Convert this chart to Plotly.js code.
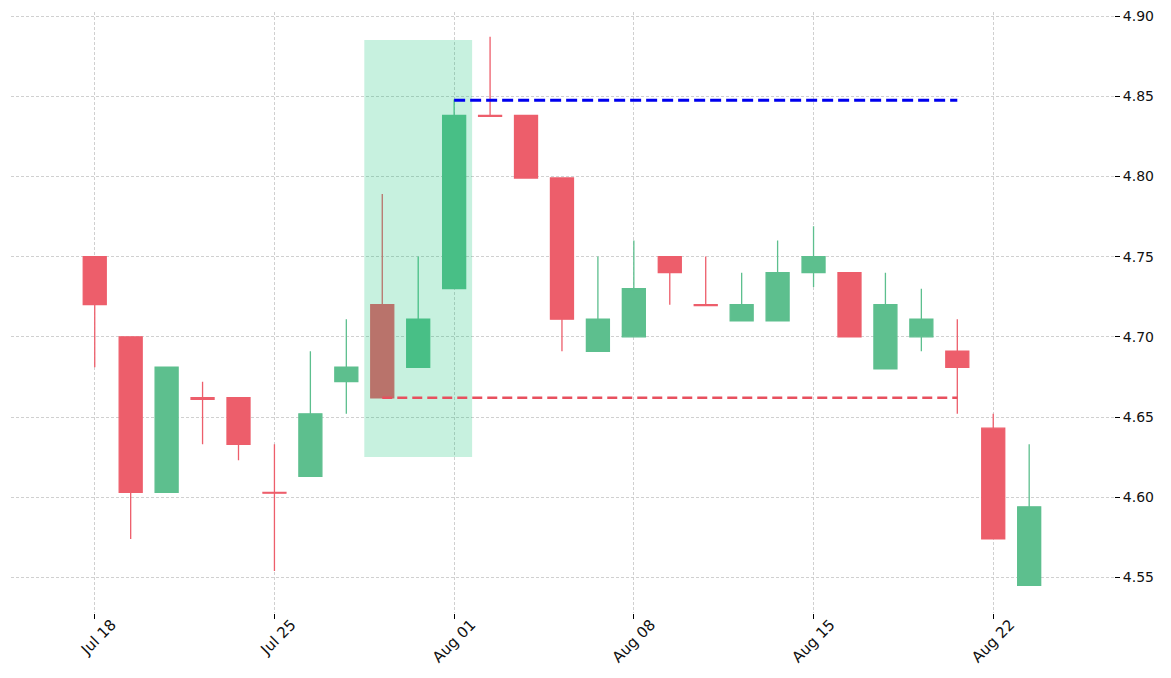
<!DOCTYPE html>
<html>
<head>
<meta charset="utf-8">
<script src="https://cdn.plot.ly/plotly-3.0.1.min.js"></script>
<style>
  html, body { margin: 0; padding: 0; background: #fff; }
  #chart { width: 1171px; height: 678px; }
</style>
</head>
<body>
<div id="chart"></div>
<script>
// daily candles, weekends skipped
var dates = ['2022-07-18','2022-07-19','2022-07-20','2022-07-21','2022-07-22',
             '2022-07-25','2022-07-26','2022-07-27','2022-07-28','2022-07-29',
             '2022-08-01','2022-08-02','2022-08-03','2022-08-04','2022-08-05',
             '2022-08-08','2022-08-09','2022-08-10','2022-08-11','2022-08-12',
             '2022-08-15','2022-08-16','2022-08-17','2022-08-18','2022-08-19',
             '2022-08-22','2022-08-23'];
var open_p  = [4.75, 4.70, 4.603, 4.662, 4.662, 4.603, 4.613, 4.672, 4.72, 4.681,
               4.73, 4.838, 4.838, 4.799, 4.691, 4.70, 4.75, 4.72, 4.71, 4.71,
               4.74, 4.74, 4.68, 4.70, 4.691, 4.643, 4.545];
var high_p  = [4.75, 4.70, 4.681, 4.672, 4.662, 4.633, 4.691, 4.711, 4.789, 4.75,
               4.848, 4.887, 4.838, 4.799, 4.75, 4.76, 4.75, 4.75, 4.74, 4.76,
               4.769, 4.74, 4.74, 4.73, 4.711, 4.652, 4.633];
var low_p   = [4.681, 4.574, 4.603, 4.633, 4.623, 4.554, 4.613, 4.652, 4.662, 4.681,
               4.73, 4.838, 4.799, 4.691, 4.691, 4.70, 4.72, 4.72, 4.71, 4.71,
               4.731, 4.70, 4.68, 4.691, 4.652, 4.574, 4.545];
var close_p = [4.72, 4.603, 4.681, 4.661, 4.633, 4.6025, 4.652, 4.681, 4.662, 4.711,
               4.838, 4.8375, 4.799, 4.711, 4.711, 4.73, 4.74, 4.7195, 4.72, 4.74,
               4.75, 4.70, 4.72, 4.711, 4.681, 4.574, 4.594];

var tick_vals = ['2022-07-18','2022-07-25','2022-08-01','2022-08-08','2022-08-15','2022-08-22'];
var tick_text = ['Jul 18','Jul 25','Aug 01','Aug 08','Aug 15','Aug 22'];

// pattern markers: highlighted zone and the two levels
var zone_from = '2022-07-27', zone_to = '2022-08-01';
var zone_low = 4.625, zone_high = 4.885;
var resist_start = '2022-08-01', support_start = '2022-07-28', level_end = '2022-08-19';
var resist_level = 4.8475, support_level = 4.662;

var green = '#5dbf8e';
var red = '#ed5e6b';

var candles = {
  x: dates, open: open_p, high: high_p, low: low_p, close: close_p,
  type: 'candlestick',
  increasing: { line: { color: green, width: 1.3 }, fillcolor: green },
  decreasing: { line: { color: red, width: 1.3 }, fillcolor: red },
  hoverinfo: 'skip',
  showlegend: false
};

function idx(d) { return dates.indexOf(d); }

var layout = {
  width: 1171, height: 678,
  margin: { l: 11, r: 57, t: 12, b: 65 },
  paper_bgcolor: '#ffffff',
  plot_bgcolor: '#ffffff',
  font: { family: 'DejaVu Sans', size: 14, color: '#111' },
  showlegend: false,
  boxgap: 0.36,
  boxgroupgap: 0,
  xaxis: {
    type: 'category',
    range: [-2.33, dates.length - 1 + 2.36],
    rangeslider: { visible: false },
    tickmode: 'array', tickvals: tick_vals, ticktext: tick_text,
    tickfont: { family: 'DejaVu Sans', size: 15, color: '#111' },
    tickangle: -45, ticklabelshift: 17, ticklabelstandoff: -9,
    ticks: 'outside', ticklen: 5, tickcolor: '#000', tickwidth: 1,
    showgrid: true, gridcolor: '#c4c4c4', gridwidth: 0.8, griddash: '3px,2px',
    showline: false, zeroline: false
  },
  yaxis: {
    side: 'right',
    range: [4.5278, 4.9025],
    tickmode: 'array',
    tickvals: [4.55, 4.60, 4.65, 4.70, 4.75, 4.80, 4.85, 4.90],
    ticktext: ['4.55','4.60','4.65','4.70','4.75','4.80','4.85','4.90'],
    tickfont: { family: 'DejaVu Sans', size: 14, color: '#111' },
    ticks: 'outside', ticklen: 5, tickcolor: '#000', tickwidth: 1,
    showgrid: true, gridcolor: '#c4c4c4', gridwidth: 0.8, griddash: '3px,2px',
    showline: false, zeroline: false
  },
  shapes: [
    { type: 'rect', xref: 'x', yref: 'y', layer: 'above',
      x0: idx(zone_from) + 0.5, x1: idx(zone_to) + 0.5, y0: zone_low, y1: zone_high,
      fillcolor: 'rgba(0,190,110,0.22)', line: { width: 0 } },
    { type: 'line', xref: 'x', yref: 'y', layer: 'above',
      x0: idx(resist_start), x1: idx(level_end), y0: resist_level, y1: resist_level,
      line: { color: '#0000ee', width: 3, dash: '11px,5px' } },
    { type: 'line', xref: 'x', yref: 'y', layer: 'above',
      x0: idx(support_start), x1: idx(level_end), y0: support_level, y1: support_level,
      line: { color: '#e8505e', width: 2.5, dash: '10px,5px' } }
  ]
};

Plotly.newPlot('chart', [candles], layout, { staticPlot: true });
</script>
</body>
</html>
